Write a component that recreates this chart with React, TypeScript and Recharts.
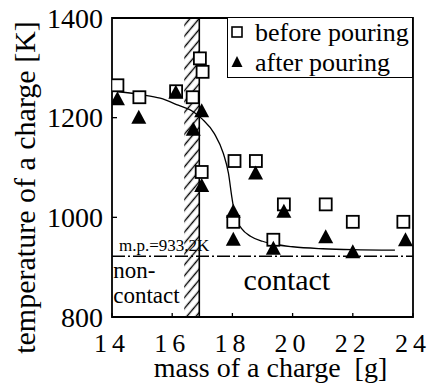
import {
  ComposedChart,
  Label,
  Line,
  ReferenceArea,
  ReferenceDot,
  ReferenceLine,
  Scatter,
  XAxis,
  YAxis,
} from 'recharts';

const FONT = 'Liberation Serif, DejaVu Serif, serif';

// axes
const xTicks = [14, 16, 18, 20, 22, 24];
const yTicks = [800, 1000, 1200, 1400];

// before pouring (open squares)
const beforeMass = [14.18, 14.91, 16.13, 16.68, 16.92, 17.01, 16.98, 18.07, 18.78, 18.03, 19.71, 21.1, 22.0, 23.68, 19.36];
const beforeTemp = [1265, 1241, 1253, 1241, 1319, 1292, 1091, 1113, 1113, 991, 1026, 1026, 991, 991, 955];

// after pouring (filled triangles)
const afterMass = [14.18, 14.89, 16.12, 16.7, 16.98, 18.77, 16.98, 18.03, 18.03, 19.36, 19.71, 21.1, 22.0, 23.75];
const afterTemp = [1237, 1200, 1250, 1176, 1213, 1088, 1063, 1011, 955, 937, 1011, 960, 930, 954];

// fitted curve
const fitMass = [14.2, 15.0, 15.6, 16.2, 16.7, 17.0, 17.4, 17.7, 17.87, 17.98, 18.1, 18.3, 18.6, 19.0, 19.4, 20.0, 21.0, 22.0, 23.4];
const fitTemp = [1252, 1246, 1239, 1225, 1212, 1197, 1168, 1128, 1088, 1041, 1000, 978, 962, 952, 946, 941, 937, 935, 934];

// melting point line and the hatched boundary band
const meltLine = 922;
const hatchFrom = 16.4;
const hatchTo = 16.9;

const beforeData = beforeMass.map((x, i) => ({ x, y: beforeTemp[i] }));
const afterData = afterMass.map((x, i) => ({ x, y: afterTemp[i] }));
const fitData = fitMass.map((x, i) => ({ x, y: fitTemp[i] }));

function SquareMark({ cx, cy }: any) {
  if (cx == null || cy == null) return null;
  return <rect x={cx - 6} y={cy - 6} width={12} height={12} fill="#fff" stroke="#000" strokeWidth={1.8} />;
}

function TriangleMark({ cx, cy }: any) {
  if (cx == null || cy == null) return null;
  return <polygon points={`${cx},${cy - 8} ${cx - 7.5},${cy + 6} ${cx + 7.5},${cy + 6}`} fill="#000" />;
}

function YTick({ x, y, payload }: any) {
  return (
    <g>
      <text x={x} y={y} dy="0.35em" textAnchor="end" fontSize={28} style={{ fontFamily: FONT }} fill="#000">
        {payload.value}
      </text>
      <line x1={x + 9} x2={x + 14} y1={y} y2={y} stroke="#000" strokeWidth={1.3} />
    </g>
  );
}

function XTick({ x, y, payload }: any) {
  return (
    <g>
      <text x={x} y={y + 35} textAnchor="middle" fontSize={26} style={{ fontFamily: FONT }} letterSpacing={5} fill="#000">
        {payload.value}
      </text>
      <line x1={x} x2={x} y1={y} y2={y - 4} stroke="#000" strokeWidth={1.3} />
    </g>
  );
}

// a text placed at a data coordinate
function note(key: string, x: number, y: number, text: string, size: number, anchor: string, dy: string) {
  return (
    <ReferenceDot
      key={key}
      x={x}
      y={y}
      r={0}
      stroke="none"
      ifOverflow="visible"
      label={(p: any) => (
        <text
          x={p.viewBox.x + (p.viewBox.width || 0) / 2}
          y={p.viewBox.y + (p.viewBox.height || 0) / 2}
          dy={dy}
          textAnchor={anchor}
          fontSize={size}
          style={{ fontFamily: FONT }}
          fill="#000"
        >
          {text}
        </text>
      )}
    />
  );
}

function LegendBox() {
  return (
    <div
      style={{
        position: 'absolute',
        left: 227,
        top: 17,
        width: 186,
        height: 61,
        boxSizing: 'border-box',
        border: '1px solid #000',
        background: '#fff',
      }}
    >
      <svg width={184} height={59} style={{ display: 'block' }}>
        <rect x={4} y={9} width={10} height={10} fill="#fff" stroke="#000" strokeWidth={1.6} />
        <text x={27} y={23} fontSize={26} style={{ fontFamily: FONT }} fill="#000">before pouring</text>
        <polygon points="9,38 3.5,49 14.5,49" fill="#000" />
        <text x={27} y={53} fontSize={26} style={{ fontFamily: FONT }} fill="#000">after pouring</text>
      </svg>
    </div>
  );
}

export default function App() {
  return (
    <div style={{ position: 'absolute', left: 0, top: 0, width: 432, height: 383, background: '#fff', fontFamily: FONT }}>
      <ComposedChart width={432} height={383} margin={{ top: 18, right: 19, bottom: 0, left: 0 }}>
        <defs>
          <pattern id="hatch" patternUnits="userSpaceOnUse" width={7} height={7} patternTransform="rotate(40)">
            <line x1={3.5} x2={3.5} y1={0} y2={7} stroke="#000" strokeWidth={1.4} />
          </pattern>
        </defs>
        <XAxis
          type="number"
          dataKey="x"
          domain={[14, 24]}
          ticks={xTicks}
          allowDataOverflow
          axisLine={false}
          tickLine={false}
          tickSize={0}
          tickMargin={0}
          height={66}
          tick={<XTick />}
          interval={0}
        >
          <Label
            content={(p: any) => (
              <text
                x={p.viewBox.x + p.viewBox.width / 2 + 8}
                y={p.viewBox.y + 60}
                textAnchor="middle"
                fontSize={28}
                fill="#000"
                style={{ whiteSpace: 'pre', fontFamily: FONT }}
              >
                {'mass of a charge  [g]'}
              </text>
            )}
          />
        </XAxis>
        <YAxis
          type="number"
          dataKey="y"
          domain={[800, 1400]}
          ticks={yTicks}
          allowDataOverflow
          axisLine={false}
          tickLine={false}
          tickSize={0}
          tickMargin={9}
          width={112}
          tick={<YTick />}
          interval={0}
        >
          <Label
            content={(p: any) => {
              const cx = 26;
              const cy = p.viewBox.y + p.viewBox.height / 2 + 20;
              return (
                <text
                  x={cx}
                  y={cy}
                  dy="0.3em"
                  textAnchor="middle"
                  transform={`rotate(-90, ${cx}, ${cy})`}
                  fontSize={30}
                  style={{ fontFamily: FONT }}
                  fill="#000"
                >
                  temperature of a charge [K]
                </text>
              );
            }}
          />
        </YAxis>

        <ReferenceArea x1={hatchFrom} x2={hatchTo} y1={800} y2={1400} fill="url(#hatch)" fillOpacity={1} stroke="none" />
        <ReferenceLine x={hatchTo} stroke="#000" strokeWidth={1.6} />
        <ReferenceLine y={meltLine} stroke="#000" strokeWidth={1.4} strokeDasharray="13 3 2 3" />
        <ReferenceArea x1={14} x2={24} y1={800} y2={1400} fill="none" stroke="#000" strokeWidth={1.8} />

        <Line
          data={fitData}
          dataKey="y"
          type="monotone"
          stroke="#000"
          strokeWidth={1.3}
          dot={false}
          activeDot={false}
          isAnimationActive={false}
        />
        <Scatter data={beforeData} dataKey="y" shape={<SquareMark />} isAnimationActive={false} />
        <Scatter data={afterData} dataKey="y" shape={<TriangleMark />} isAnimationActive={false} />

        {note('mp', 14.23, 944, 'm.p.=933.2K', 17, 'start', '0.35em')}
        {note('non', 14.04, 889, 'non-', 23, 'start', '0.25em')}
        {note('con1', 14.04, 840, 'contact', 23, 'start', '0.25em')}
        {note('con2', 19.81, 870, 'contact', 30, 'middle', '0.25em')}
      </ComposedChart>
      <LegendBox />
    </div>
  );
}
